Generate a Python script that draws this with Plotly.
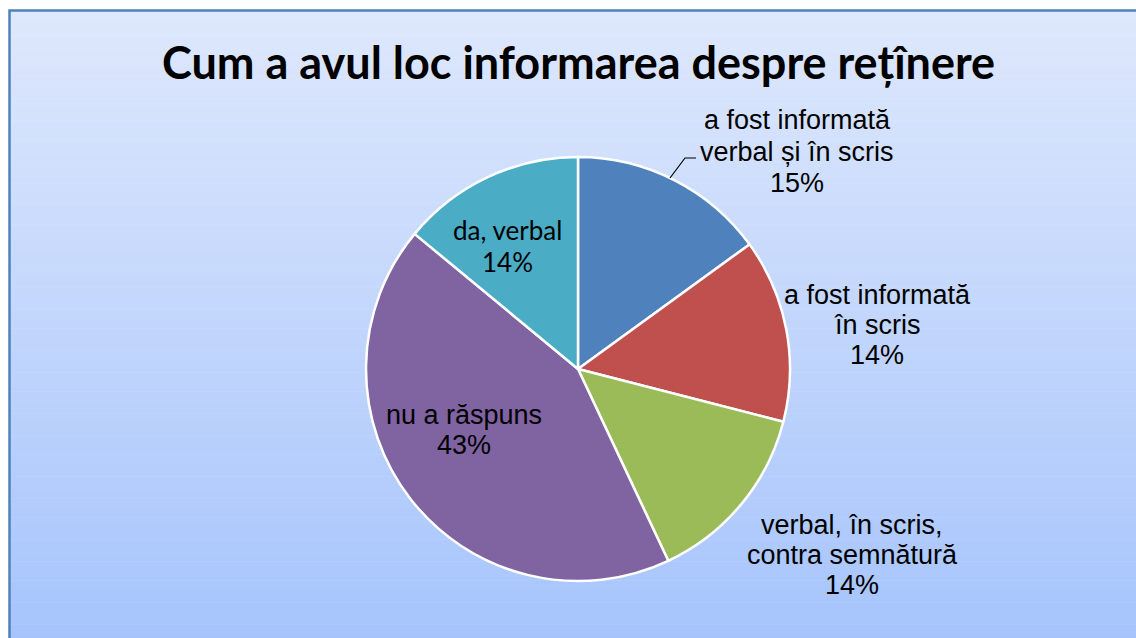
import plotly.graph_objects as go

# ---- data ----
categories = ["a fost informată<br>verbal și în scris",
              "a fost informată<br>în scris",
              "verbal, în scris,<br>contra semnătură",
              "nu a răspuns",
              "da, verbal"]
values = [15, 14, 14, 43, 14]
colors = ["#4F81BD", "#C0504D", "#9BBB59", "#8064A2", "#4BACC6"]
title_text = "Cum a avul loc informarea despre rețînere"

W, H = 1136, 638


def px(x):
    return x / W


def py(y):
    return (H - y) / H


fig = go.Figure()

cx, cy, r = 578, 369, 212
fig.add_trace(go.Pie(
    labels=categories,
    values=values,
    sort=False,
    direction="clockwise",
    rotation=0,
    marker=dict(colors=colors, line=dict(color="white", width=2.5)),
    textinfo="none",
    hoverinfo="label+percent",
    showlegend=False,
    domain=dict(x=[px(cx - r), px(cx + r)], y=[py(cy + r), py(cy - r)]),
))

shapes = []
# gradient background
top_c = (222, 232, 252)
bot_c = (166, 196, 252)
y0, y1 = 10, H + 2
n = 200
for i in range(n):
    a = y0 + (y1 - y0) * i / n
    b = y0 + (y1 - y0) * (i + 1) / n
    t = (i + 0.5) / n
    c = tuple(round(top_c[k] + (bot_c[k] - top_c[k]) * t) for k in range(3))
    shapes.append(dict(type="rect", xref="paper", yref="paper",
                       x0=px(9), x1=px(W + 5), y0=py(a), y1=py(b + 0.6),
                       fillcolor="rgb(%d,%d,%d)" % c, line=dict(width=0),
                       layer="below"))
# border
shapes.append(dict(type="rect", xref="paper", yref="paper",
                   x0=px(9.5), x1=px(W + 10), y0=py(10.5), y1=py(H + 10),
                   fillcolor="rgba(0,0,0,0)",
                   line=dict(color="#4F81BD", width=2.5), layer="below"))
# leader line for first label
shapes.append(dict(type="path", xref="paper", yref="paper",
                   path="M %f %f L %f %f L %f %f" % (px(670), py(178), px(685), py(158), px(696), py(158)),
                   line=dict(color="black", width=1.2)))

total = sum(values)
pct = [f"{round(v * 100 / total)}%" for v in values]
label_pos = [(797, 151.5), (877, 325), (852, 555), (464, 430), (507, 246)]
spacing = [31, 30, 30, 30, 32]
fonts = ["Liberation Sans"] * 4 + ["Lato"]
sizes = [27, 27, 27, 27, 26]
annotations = []
for i, (lab, p) in enumerate(zip(categories, pct)):
    x, y = label_pos[i]
    lines = lab.split("<br>") + [p]
    m = len(lines)
    for j, line in enumerate(lines):
        yy = y + (j - (m - 1) / 2) * spacing[i]
        annotations.append(dict(text=line, x=px(x), y=py(yy), xref="paper", yref="paper",
                                xanchor="center", yanchor="middle", showarrow=False, align="center",
                                font=dict(family=fonts[i], size=sizes[i], color="black")))

annotations.append(dict(text=f"<b>{title_text}</b>", x=px(578), y=py(62), xref="paper", yref="paper",
                        xanchor="center", yanchor="middle", showarrow=False,
                        font=dict(family="Lato", size=45, color="black")))

fig.update_layout(
    width=W, height=H,
    margin=dict(l=0, r=0, t=0, b=0),
    paper_bgcolor="white",
    plot_bgcolor="white",
    shapes=shapes,
    annotations=annotations,
)

fig.write_html("out.html", config={"displayModeBar": False},
               post_script="document.body.style.margin='0px';document.body.style.overflow='hidden';")
